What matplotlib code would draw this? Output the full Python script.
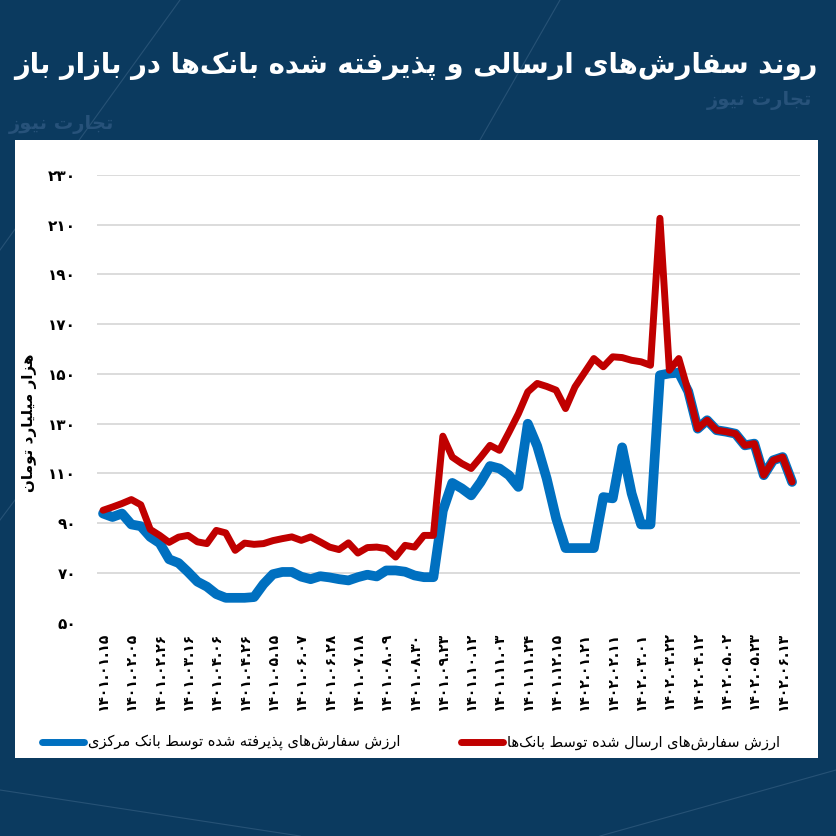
import numpy as np
import matplotlib.pyplot as plt
from matplotlib.lines import Line2D
from matplotlib.patches import Rectangle

plt.rcParams['font.family'] = ['DejaVu Sans']

# ---- data (weekly, hezar miliard toman) ----
title_fa = 'روند سفارش‌های ارسالی و پذیرفته شده بانک‌ها در بازار باز'
ylabel_fa = 'هزار میلیارد تومان'
sent_label = 'ارزش سفارش‌های ارسال شده توسط بانک‌ها'
accepted_label = 'ارزش سفارش‌های پذیرفته شده توسط بانک مرکزی'
watermark = 'تجارت نیوز'

# tick labels, one for every third week
date_labels = ['۱۴۰۱.۰۱.۱۵', '۱۴۰۱.۰۲.۰۵', '۱۴۰۱.۰۲.۲۶', '۱۴۰۱.۰۳.۱۶', '۱۴۰۱.۰۴.۰۶',
               '۱۴۰۱.۰۴.۲۶', '۱۴۰۱.۰۵.۱۵', '۱۴۰۱.۰۶.۰۷', '۱۴۰۱.۰۶.۲۸', '۱۴۰۱.۰۷.۱۸',
               '۱۴۰۱.۰۸.۰۹', '۱۴۰۱.۰۸.۳۰', '۱۴۰۱.۰۹.۲۳', '۱۴۰۱.۱۰.۱۲', '۱۴۰۱.۱۱.۰۳',
               '۱۴۰۱.۱۱.۲۴', '۱۴۰۱.۱۲.۱۵', '۱۴۰۲.۰۱.۲۱', '۱۴۰۲.۰۲.۱۱', '۱۴۰۲.۰۳.۰۱',
               '۱۴۰۲.۰۳.۲۲', '۱۴۰۲.۰۴.۱۲', '۱۴۰۲.۰۵.۰۲', '۱۴۰۲.۰۵.۲۳', '۱۴۰۲.۰۶.۱۳']

sent = [95.2, 96.5, 97.9, 99.5, 97.4, 87.5, 85.1, 82.3, 84.4, 85.1,
        82.5, 81.8, 87.1, 86.1, 79.1, 82.0, 81.5, 81.8, 83.0, 83.8,
        84.5, 83.1, 84.5, 82.5, 80.4, 79.4, 82.1, 78.0, 80.2, 80.4,
        79.8, 76.4, 81.1, 80.4, 85.1, 85.1, 125.0, 116.6, 114.0, 112.0,
        116.5, 121.3, 119.3, 126.5, 134.0, 142.8, 146.2, 145.0, 143.5, 136.1,
        144.8, 150.5, 156.2, 152.9, 156.9, 156.6, 155.5, 154.9, 153.5, 212.6,
        151.5, 156.2, 143.0, 128.0, 131.4, 127.4, 126.8, 126.0, 121.3, 122.0,
        109.3, 115.3, 116.6, 106.6]

accepted = [93.9, 92.5, 93.9, 89.5, 88.8, 84.5, 82.0, 75.5, 74.0, 70.4,
            66.5, 64.5, 61.5, 60.0, 60.0, 60.0, 60.3, 65.5, 69.5, 70.4,
            70.4, 68.5, 67.5, 68.7, 68.2, 67.5, 67.0, 68.3, 69.3, 68.6,
            71.0, 71.0, 70.5, 69.0, 68.3, 68.3, 95.0, 106.2, 104.0, 101.2,
            106.5, 113.0, 112.0, 109.3, 104.6, 130.0, 121.0, 108.0, 92.0, 80.0,
            80.0, 80.0, 80.0, 100.5, 100.0, 120.5, 102.0, 89.5, 89.5, 149.5,
            150.2, 150.5, 143.0, 128.0, 131.4, 127.4, 126.8, 126.0, 121.3, 122.0,
            109.3, 115.3, 116.6, 106.6]

yticks = [50, 70, 90, 110, 130, 150, 170, 190, 210, 230]

# ---- tiny arabic/persian shaper (no reshaper libs available) ----
FORMS = {
    'ا': (0xFE8D, 0xFE8E, None, None), 'آ': (0xFE81, 0xFE82, None, None),
    'ب': (0xFE8F, 0xFE90, 0xFE91, 0xFE92), 'پ': (0xFB56, 0xFB57, 0xFB58, 0xFB59),
    'ت': (0xFE95, 0xFE96, 0xFE97, 0xFE98), 'ج': (0xFE9D, 0xFE9E, 0xFE9F, 0xFEA0),
    'د': (0xFEA9, 0xFEAA, None, None), 'ذ': (0xFEAB, 0xFEAC, None, None),
    'ر': (0xFEAD, 0xFEAE, None, None), 'ز': (0xFEAF, 0xFEB0, None, None),
    'س': (0xFEB1, 0xFEB2, 0xFEB3, 0xFEB4), 'ش': (0xFEB5, 0xFEB6, 0xFEB7, 0xFEB8),
    'ط': (0xFEC1, 0xFEC2, 0xFEC3, 0xFEC4), 'ف': (0xFED1, 0xFED2, 0xFED3, 0xFED4),
    'ک': (0xFB8E, 0xFB8F, 0xFB90, 0xFB91), 'ل': (0xFEDD, 0xFEDE, 0xFEDF, 0xFEE0),
    'م': (0xFEE1, 0xFEE2, 0xFEE3, 0xFEE4), 'ن': (0xFEE5, 0xFEE6, 0xFEE7, 0xFEE8),
    'ه': (0xFEE9, 0xFEEA, 0xFEEB, 0xFEEC), 'و': (0xFEED, 0xFEEE, None, None),
    'ی': (0xFBFC, 0xFBFD, 0xFBFE, 0xFBFF),
}


def fa(text):
    out = []
    for k, c in enumerate(text):
        if c not in FORMS:
            if c != '\u200c':
                out.append(c)
            continue
        prev = text[k - 1] if k > 0 else ''
        nxt = text[k + 1] if k + 1 < len(text) else ''
        jp = prev in FORMS and FORMS[prev][2] is not None
        jn = nxt in FORMS and FORMS[c][2] is not None
        iso, fin, ini, med = FORMS[c]
        if jp and jn:
            code = med
        elif jp:
            code = fin
        elif jn:
            code = ini
        else:
            code = iso
        out.append(chr(code))
    return ''.join(reversed(out))


fa_digits = str.maketrans('0123456789', '۰۱۲۳۴۵۶۷۸۹')

W = H = 836
fig = plt.figure(figsize=(8.36, 8.36), dpi=100, facecolor='#0b3a5f')

# faint network lines in the background
for (x0, y0, x1, y1) in [(0, 250, 180, 0), (560, 0, 480, 140), (0, 790, 300, 836),
                         (600, 836, 836, 770), (0, 520, 15, 500)]:
    fig.add_artist(Line2D([x0 / W, x1 / W], [1 - y0 / H, 1 - y1 / H], color='#5a7fa0',
                          lw=0.8, alpha=0.35, zorder=-3))
fig.text(760 / W, 1 - 100 / H, fa(watermark), color='#27527a', fontsize=14,
         fontweight='bold', ha='center', va='center', zorder=-2)
fig.text(62 / W, 1 - 124 / H, fa(watermark), color='#27527a', fontsize=14,
         fontweight='bold', ha='center', va='center', zorder=-2)

# white panel
fig.add_artist(Rectangle((15 / W, 1 - 758 / H), 803 / W, 618 / H, facecolor='white',
                         edgecolor='none', transform=fig.transFigure, zorder=-1))

fig.text(818 / W, 1 - 66 / H, fa(title_fa), color='white', fontsize=19.8,
         fontweight='bold', ha='right', va='center')

ax = fig.add_axes([97 / W, 1 - 622.7 / H, 703 / W, (622.7 - 175) / H])
x = np.arange(len(sent))
ax.plot(x, accepted, color='#0070c0', lw=7, solid_joinstyle='round',
        solid_capstyle='round', zorder=3)
ax.plot(x, sent, color='#c00000', lw=5, solid_joinstyle='round',
        solid_capstyle='round', zorder=4)

ax.set_xlim(-0.64, 73.84)
ax.set_ylim(50, 230)
ax.set_yticks(yticks)
ax.set_yticklabels([str(v).translate(fa_digits) for v in yticks],
                   fontsize=11, fontweight='bold')
ax.set_xticks(np.arange(0, len(sent), 3))
ax.set_xticklabels(date_labels, rotation=90, fontsize=10, fontweight='bold')
ax.tick_params(axis='both', length=0)
ax.tick_params(axis='y', pad=15)
ax.tick_params(axis='x', pad=7)
ax.grid(axis='y', color='#d9d9d9', lw=1.3)
ax.get_ygridlines()[0].set_visible(False)
ax.set_axisbelow(True)
for s in ax.spines.values():
    s.set_visible(False)

fig.text(30 / W, 1 - 423 / H, fa(ylabel_fa), rotation=90, fontsize=11,
         fontweight='bold', ha='center', va='center')

# legend drawn by hand (right-to-left)
fig.canvas.draw()
r = fig.canvas.get_renderer()
for label, color, xr in [(sent_label, '#c00000', 780), (accepted_label, '#0070c0', 400)]:
    t = fig.text(xr / W, 1 - 742 / H, fa(label), fontsize=10.5, ha='right', va='center')
    bb = t.get_window_extent(renderer=r)
    xe = bb.x0 - 4
    fig.add_artist(Line2D([(xe - 42) / W, xe / W], [1 - 742 / H, 1 - 742 / H],
                          color=color, lw=5, solid_capstyle='round'))

fig.savefig('out.png', dpi=100, facecolor=fig.get_facecolor())
